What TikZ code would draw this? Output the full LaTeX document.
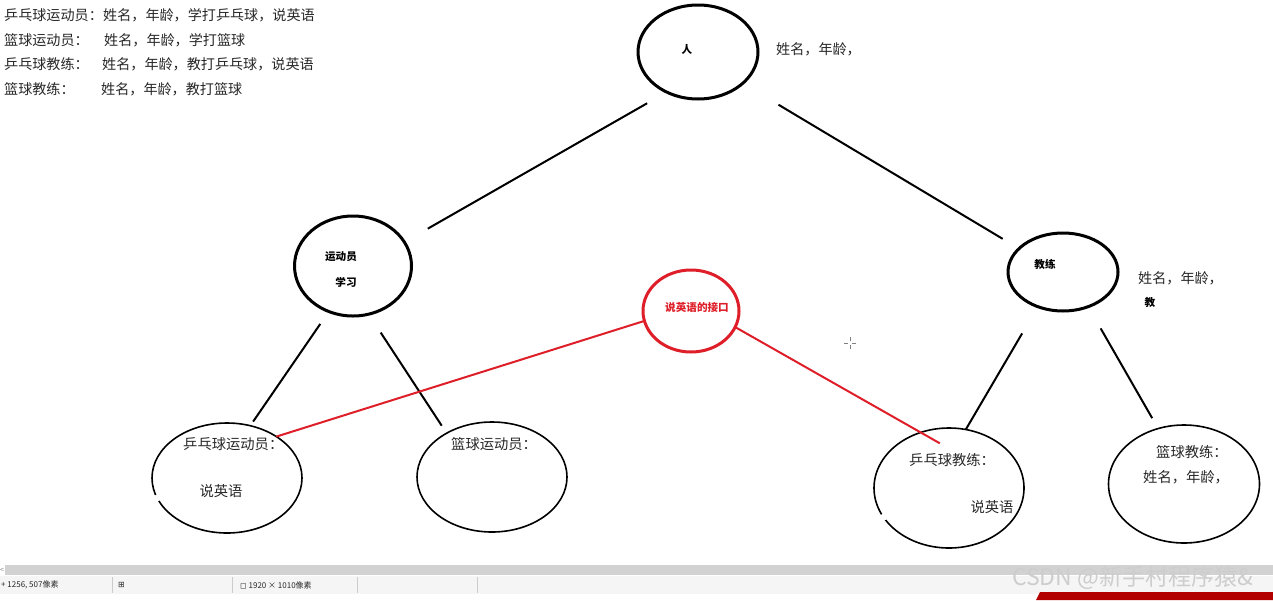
\documentclass[tikz,border=0pt]{standalone}
\usepackage{fontspec}
\setmainfont{Noto Sans CJK SC}
\newfontfamily\dejavu{DejaVu Sans}
\usetikzlibrary{shapes.geometric}
\definecolor{redc}{RGB}{222,30,40}
\definecolor{txt}{RGB}{40,40,40}
\definecolor{wm}{RGB}{205,205,205}
\begin{document}
\begin{tikzpicture}[x=1pt,y=-1pt,
  bigell/.style={draw, ellipse, line width=3pt, inner sep=0pt, outer sep=0pt},
  smallell/.style={draw, ellipse, line width=1.6pt, inner sep=0pt, outer sep=0pt},
  link/.style={line width=2pt},
  redlink/.style={line width=2pt, draw=redc},
  lbl/.style={font=\fontsize{14.1}{16}\selectfont, text=txt, inner sep=0pt},
  ilbl/.style={font=\fontsize{14.3}{16}\selectfont, text=txt, inner sep=0pt},
  blbl/.style={font=\fontsize{10.6}{12}\selectfont\bfseries, inner sep=0pt},
  stat/.style={font=\fontsize{8}{10}\selectfont, text=txt, inner sep=0pt, anchor=west}]
\useasboundingbox[fill=white] (0,0) rectangle (1273,600);

% top-left text
\node[lbl, anchor=west] (t1a) at (4,15) {乒乓球运动员：};
\node[lbl, anchor=west] (t1b) at (103,15) {姓名，年龄，学打乒乓球，说英语};
\node[lbl, anchor=west] (t2a) at (4,40) {篮球运动员：};
\node[lbl, anchor=west] (t2b) at (104,40) {姓名，年龄，学打篮球};
\node[lbl, anchor=west] (t3a) at (4,64) {乒乓球教练：};
\node[lbl, anchor=west] (t3b) at (102,64) {姓名，年龄，教打乒乓球，说英语};
\node[lbl, anchor=west] (t4a) at (4,89) {篮球教练：};
\node[lbl, anchor=west] (t4b) at (101,89) {姓名，年龄，教打篮球};

% ellipses
\node[bigell, minimum width=120pt, minimum height=94pt] (ren) at (698,52) {};
\node[bigell, minimum width=117pt, minimum height=100pt] (yd) at (353,266) {};
\node[bigell, minimum width=110pt, minimum height=78pt] (jl) at (1063,272) {};
\node[bigell, draw=redc, minimum width=96pt, minimum height=82pt] (jk) at (691,311) {};
\node[smallell, minimum width=150pt, minimum height=110pt] (ppyd) at (227,478) {};
\node[smallell, minimum width=150pt, minimum height=110pt] (lqyd) at (492,477) {};
\node[smallell, minimum width=150pt, minimum height=120pt] (ppjl) at (949,488) {};
\node[smallell, minimum width=151pt, minimum height=118pt] (lqjl) at (1184,484) {};

% small gaps in the lower ellipses
\fill[white] (ppyd.196) circle (3.5pt);
\fill[white] (ppjl.204) circle (3.5pt);

% labels
\node[blbl] (renl) at (687,49) {人};
\node[lbl, anchor=west] (rena) at (776,49) {姓名，年龄，};
\node[blbl] (ydl1) at (341,257) {运动员};
\node[blbl] (ydl2) at (346,282) {学习};
\node[blbl] (jll) at (1045,264) {教练};
\node[lbl, anchor=west] (jla) at (1138,278) {姓名，年龄，};
\node[blbl] (jlb) at (1150,302) {教};
\node[blbl, text=redc] (jkl) at (697,307) {说英语的接口};
\node[ilbl, anchor=west] (ppydl1) at (183,444) {乒乓球运动员：};
\node[ilbl] (ppydl2) at (221,491) {说英语};
\node[ilbl, anchor=west] (lqydl) at (451,444) {篮球运动员：};
\node[ilbl, anchor=west] (ppjll1) at (909,460) {乒乓球教练：};
\node[ilbl] (ppjll2) at (992,507) {说英语};
\node[ilbl, anchor=west] (lqjll1) at (1156,452) {篮球教练：};
\node[ilbl, anchor=west] (lqjll2) at (1143,477) {姓名，年龄，};

% connectors
\draw[link, shorten <=22.5pt, shorten >=27pt] (ren.232.2) -- (yd.25.6);
\draw[link, shorten <=41.6pt, shorten >=19pt] (ren.325.2) -- (jl.152.3);
\draw[link, shorten <=15pt, shorten >=5pt] (yd.242.3) -- (ppyd.66.3);
\draw[link, shorten <=22pt, shorten >=9pt] (yd.288.4) -- (lqyd.136.1);
\draw[link, shorten <=31pt] (jl.234.4) -- (ppjl.74.6);
\draw[link, shorten <=25pt, shorten >=12pt] (jl.306) -- (lqjl.115.2);
\draw[redlink] (jk.192.3) -- (ppyd.40.7);
\draw[redlink, shorten >=-22pt] (jk.340.4) -- (ppjl.117.8);

% cursor
\draw[gray, line width=1pt] (844,343) -- (848,343) (852,343) -- (856,343)
  (850,337) -- (850,341) (850,345) -- (850,349);

% status bar
\fill[gray!35] (5,565) rectangle (1273,575);
\node[font=\fontsize{7}{8}\selectfont, text=gray, inner sep=0pt] (sl) at (2,570) {<};
\fill[gray!8] (0,576) rectangle (1273,594);
\draw[gray!40] (112,577) -- (112,593) (232,577) -- (232,593) (357,577) -- (357,593) (477,577) -- (477,593);
\node[stat] (s1) at (1,585) {+ 1256, 507像素};
\node[stat] (s2) at (118,585) {\dejavu ⊞};
\node[stat] (s3) at (240,585) {{\dejavu ◻} 1920 × 1010像素};
\node[font=\fontsize{23}{26}\selectfont, text=wm, inner sep=0pt, anchor=west] (wmk) at (1012,578) {CSDN @新手村程序猿\&};
\fill[red!70!black] (1040,592) -- (1273,592) -- (1273,600) -- (1036,600) -- cycle;
\end{tikzpicture}
\end{document}
